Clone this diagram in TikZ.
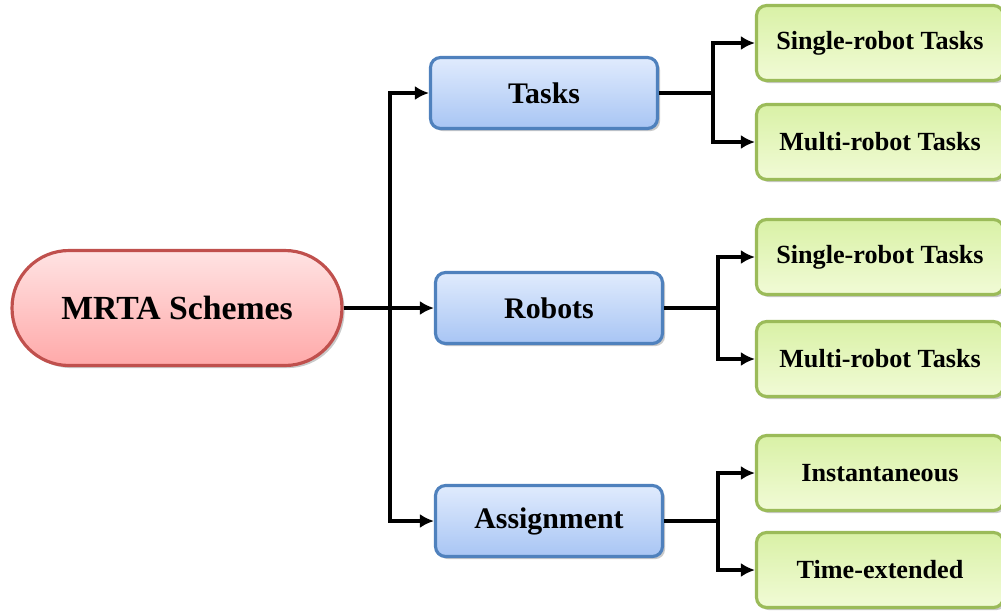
\documentclass[tikz,border=0pt]{standalone}
\usepackage{fontspec}
\setmainfont{Liberation Serif}
\usepackage{xcolor}
\usetikzlibrary{positioning,arrows.meta,shadows}

\definecolor{rootline}{HTML}{C0504D}
\definecolor{roottop}{HTML}{FFE3E3}
\definecolor{rootbot}{HTML}{FFA9A9}
\definecolor{catline}{HTML}{4F81BD}
\definecolor{cattop}{HTML}{E0EBFD}
\definecolor{catbot}{HTML}{A8C5F4}
\definecolor{leafline}{HTML}{9BBB59}
\definecolor{leaftop}{HTML}{D9F1A6}
\definecolor{leafbot}{HTML}{F1FBD6}

\tikzset{
  box/.style={draw,line width=1.8pt,align=center,inner sep=0pt,
    drop shadow={shadow xshift=1.5pt,shadow yshift=-1.5pt,opacity=0.35,fill=black!60}},
  rootbox/.style={box,draw=rootline,top color=roottop,bottom color=rootbot,
    minimum width=6.6cm,minimum height=2.3cm,rounded corners=1.14cm,
    font=\fontsize{19.2}{22}\selectfont\bfseries},
  catbox/.style={box,draw=catline,top color=cattop,bottom color=catbot,
    minimum width=4.54cm,minimum height=1.42cm,rounded corners=0.2cm,
    font=\fontsize{17}{20}\selectfont\bfseries},
  leafbox/.style={box,draw=leafline,top color=leaftop,bottom color=leafbot,
    minimum width=4.94cm,minimum height=1.5cm,rounded corners=0.2cm,
    font=\fontsize{14.9}{17}\selectfont\bfseries},
  conn/.style={line width=2pt},
  arr/.style={conn,-{Latex[length=2.8mm,width=2.8mm]}}
}

\begin{document}
\begin{tikzpicture}[x=0.02cm,y=-0.02cm]
\useasboundingbox (0,0) rectangle (1001,610);

\node[rootbox] (root) at (177,308) {MRTA Schemes};

\node[catbox] (tasks) at (544,93) {Tasks};
\node[catbox] (robots) at (549,308) {Robots};
\node[catbox] (assign) at (549,521) {Assignment};

\foreach \n/\y/\t in {ts/43/Single-robot Tasks, tm/142/Multi-robot Tasks,
                      rs/257/Single-robot Tasks, rm/359/Multi-robot Tasks,
                      ai/473/Instantaneous, at/570/Time-extended}
  \node[leafbox] (\n) at (880,\y) {\t};

% first level
\coordinate (trunk) at (390,308);
\draw[arr] (root.east) -- (robots.west);
\draw[arr] (trunk) |- (tasks.west);
\draw[arr] (trunk) |- (assign.west);

% second level
\foreach \b/\g/\h in {tasks/ts/tm, robots/rs/rm, assign/ai/at} {
  \draw[conn] (\b.east) -- ++(54,0) coordinate (\b-j);
  \draw[arr] (\b-j) |- (\g.west);
  \draw[arr] (\b-j) |- (\h.west);
}
\end{tikzpicture}
\end{document}
